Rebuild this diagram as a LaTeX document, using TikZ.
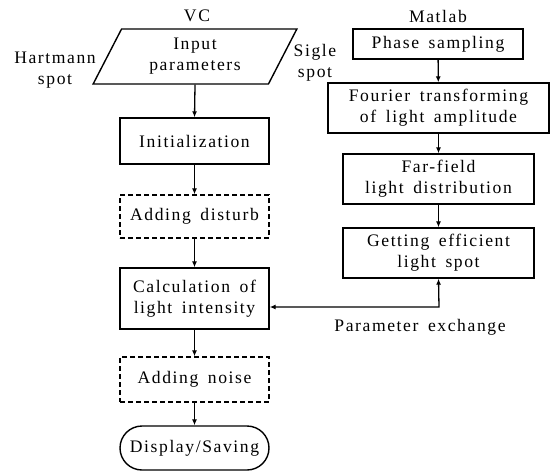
\documentclass[tikz,border=0pt]{standalone}
\usepackage{fontspec}
\setmainfont{Liberation Serif}[LetterSpace=9,WordSpace=1.6]
\usetikzlibrary{arrows.meta,shapes.geometric}
\tikzset{
  txt/.style={font=\fontsize{17.6}{21}\selectfont, align=center, inner sep=0pt},
  box/.style={txt, draw, line width=1.4pt},
  dbox/.style={box, dashed, dash pattern=on 5pt off 3pt},
  arr/.style={line width=1.3pt, -{Latex[length=6pt,width=5pt]}},
  darr/.style={line width=1.3pt, {Latex[length=6pt,width=5pt]}-{Latex[length=6pt,width=5pt]}},
}
\begin{document}
\begin{tikzpicture}[x=1pt,y=-1pt]
\useasboundingbox[fill=white] (0,0) rectangle (552,475);
% labels
\node[txt] (vc) at (197,16) {VC};
\node[txt] (ml) at (438,16) {Matlab};
\node[txt] (hs) at (55,70) {Hartmann\\spot};
\node[txt] (ss) at (315,63) {Sigle\\spot};
\node[txt] (pe) at (420,327) {Parameter exchange};
% left column
\node[box, trapezium, trapezium left angle=64, trapezium right angle=116,
      trapezium stretches=true, minimum width=204pt, minimum height=55pt] (in) at (195,56.5) {Input\\parameters};
\node[box, minimum width=149pt, minimum height=46pt] (init) at (194.5,141) {Initialization};
\node[dbox, minimum width=149pt, minimum height=43pt] (dist) at (194.5,216.5) {Adding disturb};
\node[box, minimum width=149pt, minimum height=61pt] (calc) at (194.5,298.5) {Calculation of\\light intensity};
\node[dbox, minimum width=149pt, minimum height=45pt] (noise) at (194.5,379.5) {Adding noise};
\node[box, minimum width=149pt, minimum height=44pt, rounded corners=22pt] (disp) at (194.5,448) {Display/Saving};
% right column
\node[box, minimum width=170pt, minimum height=30pt] (phase) at (438,44) {Phase sampling};
\node[box, minimum width=221pt, minimum height=50pt] (four) at (438.5,108) {Fourier transforming\\of light amplitude};
\node[box, minimum width=191pt, minimum height=50pt] (far) at (438.5,179) {Far-field\\light distribution};
\node[box, minimum width=191pt, minimum height=50pt] (get) at (438.5,253) {Getting efficient\\light spot};
\coordinate (corner) at (439,307);
% connectors
\draw[arr] (in.south) -- (init.north);
\draw[arr] (init) -- (dist);
\draw[arr] (dist) -- (calc);
\draw[arr] (calc) -- (noise);
\draw[arr] (noise) -- (disp);
\draw[arr] (phase) -- (four);
\draw[arr] (four) -- (far);
\draw[arr] (far) -- (get);
\draw[darr] (get.south) -- (corner) -- (calc.east |- corner);
\end{tikzpicture}
\end{document}
